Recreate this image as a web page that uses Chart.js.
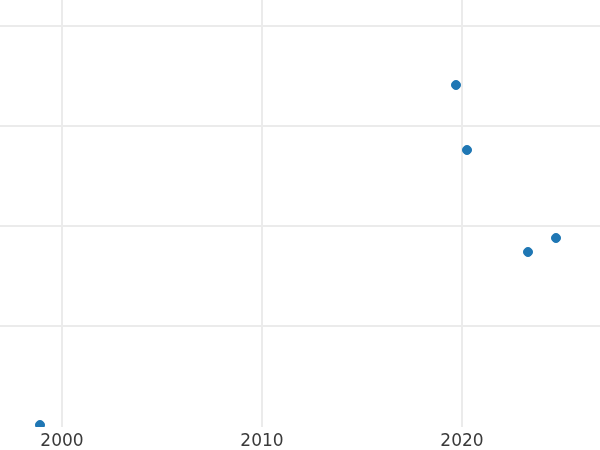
<!DOCTYPE html>
<html>
<head>
<meta charset="utf-8">
<script src="https://cdn.jsdelivr.net/npm/chart.js@4"></script>
<style>
  html, body { margin: 0; padding: 0; background: #fff; }
  #wrap { width: 600px; height: 450px; }
</style>
</head>
<body>
<div id="wrap"><canvas id="chart" width="600" height="450"></canvas></div>
<script>
// values
const years = [1998.9, 2019.7, 2020.25, 2023.3, 2024.7];
const values = [0.01, 3.41, 2.76, 1.74, 1.88];
const xTicks = [2000, 2010, 2020];
const yTicks = [1, 2, 3, 4];

document.addEventListener("DOMContentLoaded", function () {
    const ctx = document.getElementById("chart").getContext("2d");
    const points = years.map((x, i) => ({ x: x, y: values[i] }));

    new Chart(ctx, {
        type: "scatter",
        data: {
            datasets: [{
                data: points,
                backgroundColor: "#1f77b4",
                borderColor: "#1f77b4",
                pointRadius: 4.5,
                pointHoverRadius: 4.5,
                clip: 0
            }]
        },
        options: {
            responsive: false,
            animation: false,
            layout: { padding: 0, autoPadding: false },
            plugins: {
                legend: { display: false },
                tooltip: { enabled: false }
            },
            scales: {
                x: {
                    type: "linear",
                    min: 1996.9,
                    max: 2026.9,
                    border: { display: false },
                    grid: { color: "#ebebeb", lineWidth: 2, drawTicks: false },
                    afterBuildTicks: axis => {
                        axis.ticks = xTicks.map(v => ({ value: v }));
                    },
                    afterFit: axis => { axis.height = 23; },
                    ticks: {
                        padding: 4,
                        color: "#3a3a3a",
                        font: { family: "DejaVu Sans", size: 17 },
                        maxRotation: 0,
                        callback: v => String(v)
                    }
                },
                y: {
                    min: -0.01,
                    max: 4.26,
                    border: { display: false },
                    grid: { color: "#ebebeb", lineWidth: 2, drawTicks: false },
                    afterBuildTicks: axis => {
                        axis.ticks = yTicks.map(v => ({ value: v }));
                    },
                    afterFit: axis => { axis.width = 0; },
                    ticks: { display: false }
                }
            }
        }
    });
});
</script>
</body>
</html>
